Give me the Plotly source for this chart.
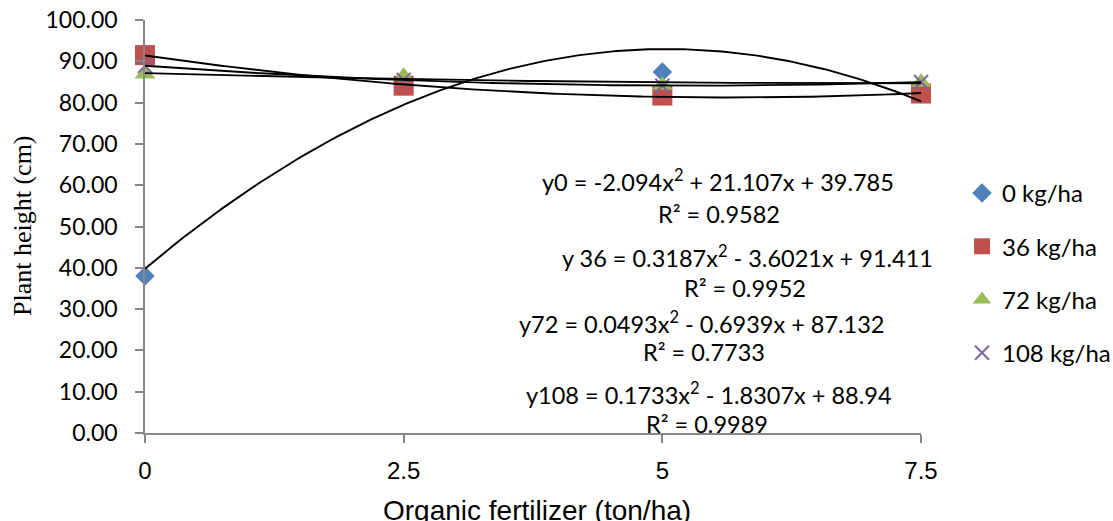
import numpy as np
import plotly.graph_objects as go

# ---- data ----
fertilizer = [0, 2.5, 5, 7.5]
x_tick_labels = ["0", "2.5", "5", "7.5"]
series_names = ["0 kg/ha", "36 kg/ha", "72 kg/ha", "108 kg/ha"]
height_0 = [38.0, 84.8, 87.4, 82.1]
height_36 = [91.5, 84.1, 81.7, 82.2]
height_72 = [86.9, 86.4, 84.2, 84.9]
height_108 = [88.9, 85.5, 84.1, 85.0]
# quadratic trendline coefficients (a, b, c) as printed on the chart
coef_0 = [-2.094, 21.107, 39.785]
coef_36 = [0.3187, -3.6021, 91.411]
coef_72 = [0.0493, -0.6939, 87.132]
coef_108 = [0.1733, -1.8307, 88.94]
r2_values = [0.9582, 0.9952, 0.7733, 0.9989]
eq_labels = [
    "y0 = -2.094x<sup>2</sup> + 21.107x + 39.785",
    "y 36 = 0.3187x<sup>2</sup> - 3.6021x + 91.411",
    "y72 = 0.0493x<sup>2</sup> - 0.6939x + 87.132",
    "y108 = 0.1733x<sup>2</sup> - 1.8307x + 88.94",
]

series = [height_0, height_36, height_72, height_108]
coefs = [coef_0, coef_36, coef_72, coef_108]
colors = ["#4F81BD", "#C0504D", "#9BBB59", "#8064A2"]
symbols = ["diamond", "square", "triangle-up", "x-thin"]
sizes = [15, 20, 18, 14]

# page geometry (body margin is removed so the figure fills the page)
W, H = 1113, 521
PL, PR, PT, PB = 145, 921, 20, 433     # plot area in page pixels
L, T = PL, PT
R = W - PR
B = H - PB

fig = go.Figure()
for i, (ys, name) in enumerate(zip(series, series_names)):
    mk = dict(symbol=symbols[i], size=sizes[i], color=colors[i])
    if symbols[i] == "x-thin":
        mk["line"] = dict(color=colors[i], width=2)
    else:
        mk["line"] = dict(width=0)
    fig.add_trace(go.Scatter(
        x=fertilizer, y=ys, mode="markers", name=name, marker=mk,
        cliponaxis=False, legendgroup=name,
    ))

xs = np.linspace(0, 7.5, 200)
for c in coefs:
    fig.add_trace(go.Scatter(
        x=xs, y=np.polyval(c, xs), mode="lines",
        line=dict(color="black", width=1.9), showlegend=False,
        hoverinfo="skip", cliponaxis=False,
    ))

def px(xp):
    return (xp - PL) / (PR - PL)

def py(yp):
    return (PB - yp) / (PB - PT)

ann_font = dict(family="Lato", size=23.5, color="black")
text_pos = [
    ((718, 181), (719, 214)),
    ((747, 256), (745, 288)),
    ((702, 322), (704, 352)),
    ((709, 393), (707, 424)),
]
for i in range(4):
    (ex, ey), (rx, ry) = text_pos[i]
    fig.add_annotation(x=px(ex), y=py(ey), xref="paper", yref="paper",
                       text=eq_labels[i], showarrow=False, font=ann_font,
                       xanchor="center", yanchor="middle")
    fig.add_annotation(x=px(rx), y=py(ry), xref="paper", yref="paper",
                       text=f"R² = {r2_values[i]:.4f}", showarrow=False,
                       font=ann_font, xanchor="center", yanchor="middle")

# axis titles
fig.add_annotation(x=px(537), y=py(510), xref="paper", yref="paper",
                   text="Organic fertilizer (ton/ha)", showarrow=False,
                   font=dict(family="Liberation Sans", size=28, color="black"),
                   xanchor="center", yanchor="middle")
fig.add_annotation(x=px(22), y=py(226), xref="paper", yref="paper",
                   text="Plant height (cm)", showarrow=False, textangle=-90,
                   font=dict(family="Liberation Serif", size=26, color="black"),
                   xanchor="center", yanchor="middle")

fig.update_layout(
    width=W, height=H,
    margin=dict(l=L, r=R, t=T, b=B, autoexpand=False),
    paper_bgcolor="white", plot_bgcolor="white",
    showlegend=True,
    legend=dict(x=px(962), y=py(171), xanchor="left", yanchor="top",
                font=dict(family="Lato", size=24, color="black"),
                tracegroupgap=19, itemwidth=30, bgcolor="rgba(0,0,0,0)"),
    xaxis=dict(range=[0, 7.5], tickvals=fertilizer, ticktext=x_tick_labels,
               showgrid=False, zeroline=False, showline=True,
               linecolor="#888888", linewidth=1.5, ticks="outside",
               ticklen=8, tickcolor="#888888", tickwidth=1.5,
               tickfont=dict(family="Liberation Sans", size=24, color="black"),
               ticklabelstandoff=7, ticklabeloverflow="allow"),
    yaxis=dict(range=[0, 100], tickvals=list(range(0, 101, 10)),
               tickformat=".2f", showgrid=False, zeroline=False,
               showline=True, linecolor="#888888", linewidth=1.5,
               ticks="outside", ticklen=8, tickcolor="#888888", tickwidth=1.5,
               tickfont=dict(family="Lato", size=23, color="black"),
               ticklabelstandoff=13, ticklabeloverflow="allow"),
)

fig.write_html("out.html",
               config={"displayModeBar": False},
               post_script="document.body.style.margin='0px';document.body.style.overflow='hidden';")
